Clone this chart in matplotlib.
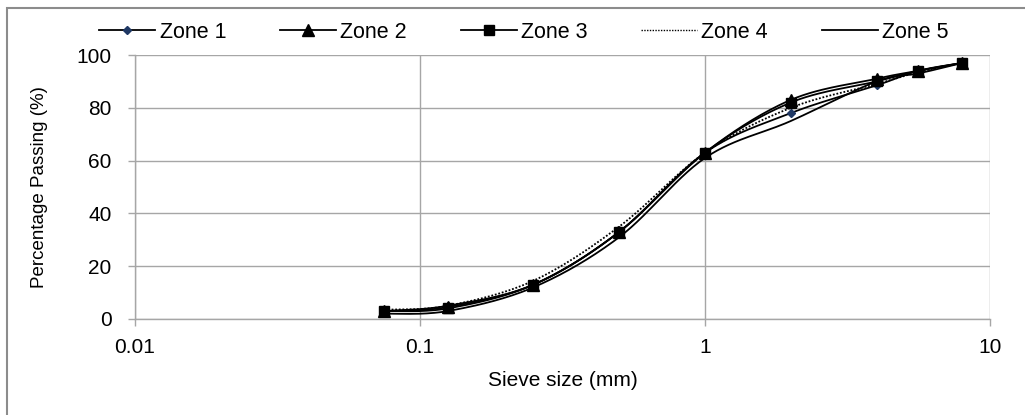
import numpy as np
import matplotlib
matplotlib.use("Agg")
import matplotlib.pyplot as plt
from matplotlib.patches import Rectangle
from matplotlib.lines import Line2D

plt.rcParams['font.family'] = ['Liberation Sans', 'DejaVu Sans']

sieve = [0.075, 0.125, 0.25, 0.5, 1, 2, 4, 5.6, 8]
zone1 = [3, 5, 13, 33, 63, 78, 88.5, 94, 97]
zone2 = [3, 4.5, 13, 33, 63, 83, 91, 94, 97]
zone3 = [3, 4, 13, 33, 63, 82, 90, 94, 97]
zone4 = [3.5, 5, 14.5, 35, 63, 80, 89, 93.5, 97]
zone5 = [2, 3, 12, 31, 61, 75, 90, 93, 97]
labels = ['Zone 1', 'Zone 2', 'Zone 3', 'Zone 4', 'Zone 5']
yticks = [0, 20, 40, 60, 80, 100]
xticks = [0.01, 0.1, 1, 10]
xticklabels = ['0.01', '0.1', '1', '10']


def smooth(x, y, n=30):
    # Bezier smoothing in (log x, y) space, like Excel smoothed lines
    lx = np.log10(np.asarray(x, float))
    yy = np.asarray(y, float)
    P = np.column_stack([lx, yy])
    P = np.vstack([P[0], P, P[-1]])
    out = []
    t = np.linspace(0, 1, n)
    for i in range(1, len(P) - 2):
        p0, p1, p2, p3 = P[i - 1], P[i], P[i + 1], P[i + 2]
        c1 = p1 + (p2 - p0) / 6.0
        c2 = p2 - (p3 - p1) / 6.0
        seg = ((1 - t) ** 3)[:, None] * p1 + (3 * (1 - t) ** 2 * t)[:, None] * c1 \
            + (3 * (1 - t) * t ** 2)[:, None] * c2 + (t ** 3)[:, None] * p2
        out.append(seg if i == 1 else seg[1:])
    S = np.vstack(out)
    return 10 ** S[:, 0], S[:, 1]


fig = plt.figure(figsize=(10.25, 4.15), dpi=100)
ax = fig.add_axes([135 / 1025, 1 - 319 / 415, (990 - 135) / 1025, (319 - 55) / 415])

grid_c = '#a6a6a6'
styles = [
    dict(ls='-', marker='D', ms=4, mfc='#1f3864', mec='#1f3864'),
    dict(ls='-', marker='^', ms=9, mfc='black', mec='black'),
    dict(ls='-', marker='s', ms=7.5, mfc='black', mec='black'),
    dict(ls=(0, (1, 1)), marker=None),
    dict(ls='-', marker=None),
]
data = [zone1, zone2, zone3, zone4, zone5]
handles = []
for vals, st, lab in zip(data, styles, labels):
    sx, sy = smooth(sieve, vals)
    ax.plot(sx, sy, color='black', lw=1.3, ls=st['ls'], zorder=3)
    if st['marker']:
        ax.plot(sieve, vals, ls='none', marker=st['marker'], ms=st['ms'],
                mfc=st['mfc'], mec=st['mec'], zorder=4)
    handles.append(Line2D([], [], color='black', lw=1.3 if st['ls'] == '-' else 1.0,
                          ls=st['ls'], marker=st['marker'],
                          ms=st.get('ms', 0), mfc=st.get('mfc'), mec=st.get('mec')))

ax.set_xscale('log')
ax.set_xlim(0.01, 10)
ax.set_ylim(0, 100)
ax.set_xticks(xticks)
ax.set_xticklabels(xticklabels)
ax.minorticks_off()
ax.set_yticks(yticks)
ax.grid(True, which='major', color=grid_c, lw=1.0)
for s in ['top', 'right']:
    ax.spines[s].set_visible(False)
for s in ['left', 'bottom']:
    ax.spines[s].set_color(grid_c)
    ax.spines[s].set_linewidth(1.0)
ax.tick_params(axis='both', color=grid_c, length=5, width=1.0, labelsize=15,
               labelcolor='black')
ax.tick_params(axis='x', pad=9)
ax.tick_params(axis='y', pad=12)
ax.set_xlabel('Sieve size (mm)', fontsize=15, labelpad=10)
ax.set_ylabel('Percentage Passing (%)', fontsize=13.5, labelpad=20)

leg = fig.legend(handles, labels, loc='center', bbox_to_anchor=(524 / 1025, 1 - 32 / 415),
                 ncol=5, frameon=False, fontsize=15.5, handlelength=2.6,
                 columnspacing=2.5, handletextpad=0.2, borderpad=0, borderaxespad=0)

fig.patches.append(Rectangle((7 / 1025, -0.2), 2, (415 - 8) / 415 + 0.2,
                             transform=fig.transFigure, fill=False,
                             edgecolor='#8c8c8c', lw=1.5, zorder=0))

fig.savefig('out.png', dpi=100)
